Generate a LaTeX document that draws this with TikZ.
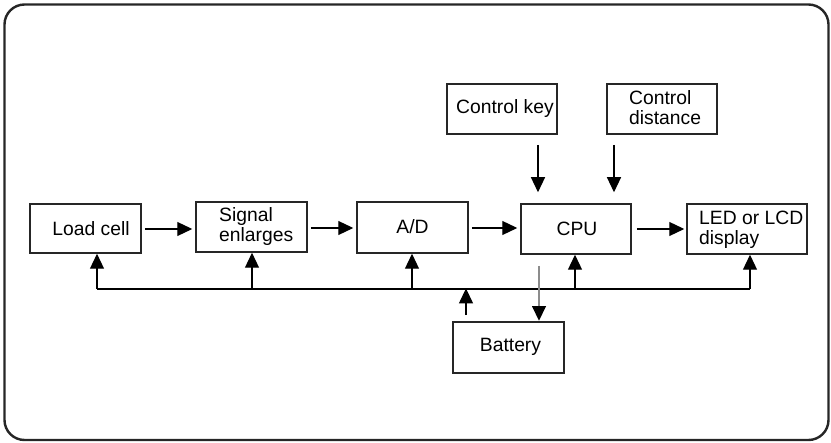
\documentclass[tikz,border=0pt]{standalone}
\usepackage{fontspec}
\setmainfont{Liberation Sans}
\usetikzlibrary{arrows.meta}
\begin{document}
\begin{tikzpicture}[x=1pt,y=-1pt,
  box/.style={draw=black!85,line width=1.5pt,minimum width=#1,minimum height=50pt,inner sep=0pt},
  box/.default=111pt,
  lbl/.style={font=\fontsize{19.3}{20}\selectfont,inner sep=0pt,align=left},
  arr/.style={line width=1.2pt,-{Triangle[length=15pt,width=14pt]}}
]
\useasboundingbox (0,0) rectangle (831,443);
\draw[line width=2.4pt,draw=black!85,rounded corners=20pt] (4.5,4.5) rectangle (828.5,440);

% boxes
\node[box=111pt,minimum height=49pt] (load) at (85.5,228.5) {};
\node[box=111pt] (sig) at (251.5,227) {};
\node[box=111pt,minimum height=51pt] (ad) at (412.5,227.5) {};
\node[box=110pt] (cpu) at (576,229) {};
\node[box=120pt] (led) at (747,229) {};
\node[box=110pt] (ckey) at (502,109) {};
\node[box=110pt] (cdist) at (662,109) {};
\node[box=111pt,minimum height=51pt] (bat) at (508.5,347.5) {};

% texts
\node[lbl] (loadT) at (91,229) {Load cell};
\node[lbl,anchor=west] (sigT) at (219,227) {Signal\\enlarges};
\node[lbl] (adT) at (412.5,226.5) {A/D};
\node[lbl] (cpuT) at (577,229) {CPU};
\node[lbl,anchor=west] (ledT) at (699,230) {LED or LCD\\display};
\node[lbl] (ckeyT) at (505,108.5) {Control key};
\node[lbl,anchor=west] (cdistT) at (629,108) {Control\\distance};
\node[lbl] (batT) at (510.5,346.5) {Battery};

% horizontal arrows
\draw[arr,shorten <=3pt,shorten >=3pt] (load.east |- 0,229) -- (sig.west |- 0,229);
\draw[arr,shorten <=3pt,shorten >=3pt] (sig.east |- 0,228) -- (ad.west |- 0,228);
\draw[arr,shorten <=3pt,shorten >=3pt] (ad.east |- 0,228) -- (cpu.west |- 0,228);
\draw[arr,shorten <=5pt,shorten >=2pt] (cpu.east |- 0,229) -- (led.west |- 0,229);

% bus
\coordinate (b1) at (97,289);
\coordinate (b2) at (252,289);
\coordinate (b3) at (412,289);
\coordinate (b4) at (575,289);
\coordinate (b5) at (750,289);
\coordinate (bb) at (466,289);
\draw[line width=1.2pt] (b1) -- (b5);
\draw[arr] (b1) -- (load.south -| b1);
\draw[arr] (b2) -- (sig.south -| b2);
\draw[arr] (b3) -- (ad.south -| b3);
\draw[arr] (b4) -- (cpu.south -| b4);
\draw[arr] (b5) -- (led.south -| b5);
\draw[arr,shorten <=6pt] (bat.north -| bb) -- ([yshift=0.6pt]bb);

% CPU to battery (grey line, black head)
\coordinate (g1) at (539,266);
\draw[line width=1.2pt,draw=black!45] (g1) -- ([yshift=14pt]bat.north -| g1);
\fill[black] ([xshift=-7pt,yshift=15pt]bat.north -| g1) -- ([xshift=7pt,yshift=15pt]bat.north -| g1) -- ([yshift=0.5pt]bat.north -| g1) -- cycle;

% controls
\coordinate (k1) at (538,145);
\coordinate (k2) at (614,145);
\draw[arr,shorten >=11pt] (k1) -- (cpu.north -| k1);
\draw[arr,shorten >=11pt] (k2) -- (cpu.north -| k2);
\end{tikzpicture}
\end{document}
